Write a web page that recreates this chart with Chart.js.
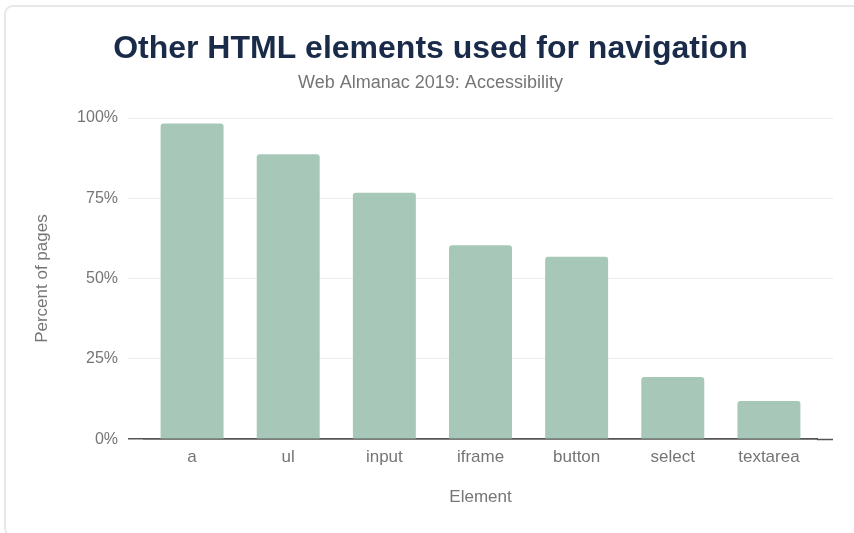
<!DOCTYPE html>
<html>
<head>
<meta charset="utf-8">
<script src="https://cdn.jsdelivr.net/npm/chart.js@4"></script>
<style>
	html, body { margin: 0; padding: 0; background: #fff; }
	body { width: 854px; height: 533px; position: relative; overflow: hidden; }
	.card {
		position: absolute; left: 4px; top: 5px; width: 1000px; height: 532px;
		border: 2px solid #e8e8e8; border-radius: 9px; box-sizing: border-box;
	}
	#chart { position: absolute; left: 0; top: 0; }
</style>
</head>
<body>
<div class="card"></div>
<canvas id="chart" width="854" height="533"></canvas>
<script>
( function () {
	'use strict';

	var elements = [ 'a', 'ul', 'input', 'iframe', 'button', 'select', 'textarea' ];
	var percentOfPages = [ 98.3, 88.7, 76.7, 60.4, 56.8, 19.4, 11.9 ];
	var yTicks = [ 0, 25, 50, 75, 100 ];

	var GREY = '#757575';
	var GRID = '#ececec';
	var BASE = '#555555';
	var FONT = "'Liberation Sans', Arial, Helvetica, sans-serif";

	function gridColor( ctx ) {
		return ctx.tick && ctx.tick.value === 0 ? BASE : GRID;
	}
	function gridWidth( ctx ) {
		return ctx.tick && ctx.tick.value === 0 ? 1.5 : 1;
	}

	new Chart( document.getElementById( 'chart' ), {
		type: 'bar',
		data: {
			labels: elements,
			datasets: [
				{
					label: 'Percent of pages',
					data: percentOfPages,
					backgroundColor: '#a7c8b8',
					borderRadius: 3,
					barPercentage: 0.655,
					categoryPercentage: 1,
					yAxisID: 'y',
				},
			],
		},
		options: {
			responsive: false,
			animation: false,
			layout: {
				padding: { top: 10, left: 28, right: 21, bottom: 21 },
			},
			plugins: {
				legend: { display: false },
				tooltip: { enabled: false },
				title: {
					display: true,
					text: 'Other HTML elements used for navigation',
					color: '#1a2b49',
					font: { family: FONT, size: 32, weight: 'bold' },
					padding: { top: 20, bottom: 0 },
				},
				subtitle: {
					display: true,
					text: 'Web Almanac 2019: Accessibility',
					color: GREY,
					font: { family: FONT, size: 18 },
					padding: { top: 4, bottom: 24 },
				},
			},
			scales: {
				x: {
					grid: { display: false, drawTicks: false },
					border: { display: true, color: BASE, width: 1.5 },
					ticks: {
						color: GREY,
						font: { family: FONT, size: 17 },
						padding: 8,
					},
					title: {
						display: true,
						text: 'Element',
						color: GREY,
						font: { family: FONT, size: 17 },
						padding: { top: 12, bottom: 4 },
					},
				},
				y: {
					min: 0,
					max: 100,
					afterBuildTicks: function ( scale ) {
						scale.ticks = yTicks.map( function ( v ) {
							return { value: v };
						} );
					},
					afterFit: function ( scale ) {
						scale.width = 116;
					},
					grid: {
						color: gridColor,
						lineWidth: gridWidth,
						tickColor: gridColor,
						tickWidth: gridWidth,
						tickLength: 16,
					},
					border: { display: false },
					ticks: {
						color: GREY,
						font: { family: FONT, size: 16 },
						padding: 10,
						callback: function ( value ) {
							return value + '%';
						},
					},
					title: {
						display: true,
						text: 'Percent of pages',
						color: GREY,
						font: { family: FONT, size: 17 },
						padding: { top: 4, bottom: 4 },
					},
				},
				y2: {
					position: 'right',
					min: 0,
					max: 100,
					afterBuildTicks: function ( scale ) {
						scale.ticks = yTicks.map( function ( v ) {
							return { value: v };
						} );
					},
					grid: {
						drawOnChartArea: false,
						tickColor: gridColor,
						tickWidth: gridWidth,
						tickLength: 16,
					},
					border: { display: false },
					ticks: { display: false },
				},
			},
		},
	} );
} )();
</script>
</body>
</html>
